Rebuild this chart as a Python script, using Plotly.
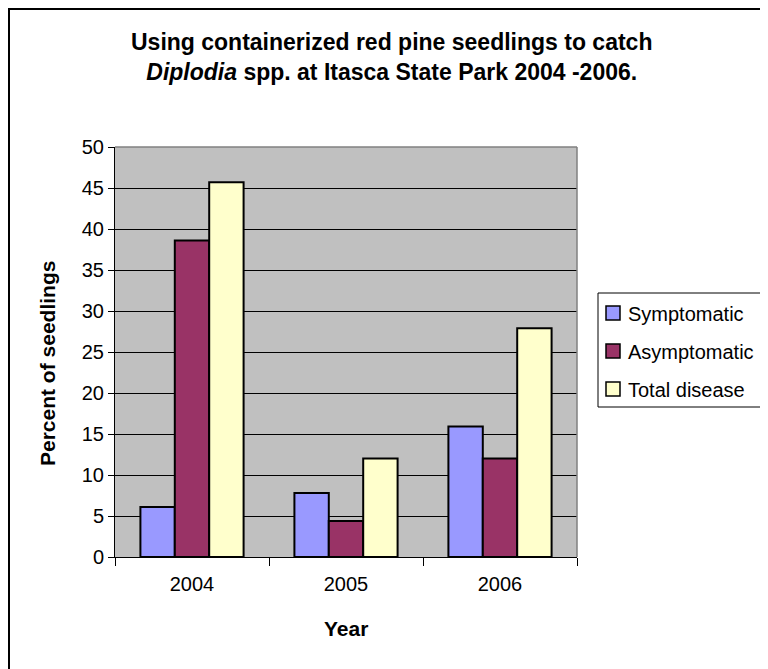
import plotly.graph_objects as go

years = ["2004", "2005", "2006"]
symptomatic = [6.1, 7.8, 15.9]
asymptomatic = [38.6, 4.4, 12.0]
total_disease = [45.7, 12.0, 27.9]
series_names = ["Symptomatic", "Asymptomatic", "Total disease"]
series_colors = ["#9999FF", "#993366", "#FFFFCC"]
y_ticks = [0, 5, 10, 15, 20, 25, 30, 35, 40, 45, 50]

FONT = "Liberation Sans, Arial, sans-serif"

fig = go.Figure()
for name, vals, col in zip(series_names, [symptomatic, asymptomatic, total_disease], series_colors):
    fig.add_trace(go.Bar(
        x=years, y=vals, name=name, showlegend=False,
        marker=dict(color=col, line=dict(color="black", width=2)),
    ))

OFF = 8  # page offset of the figure in the screenshot
W, H = 768, 669
# plot area in screenshot coordinates
SL, SR, ST, SB = 115, 577, 147, 557
L, R, T, B = SL - OFF, SR - OFF, ST - OFF, SB - OFF
pw, ph = R - L, B - T


def px_x(s):
    return (s - OFF - L) / pw


def px_y(s):
    return (B - (s - OFF)) / ph


annotations = [
    dict(
        text="<b>Using containerized red pine seedlings to catch</b><br><b><i>Diplodia</i> spp. at Itasca State Park 2004 -2006.</b>",
        xref="paper", yref="paper", x=px_x(391), y=px_y(57),
        xanchor="center", yanchor="middle", showarrow=False,
        font=dict(family=FONT, size=23, color="black"), align="center",
    ),
    dict(
        text="<b>Percent of seedlings</b>",
        xref="paper", yref="paper", x=px_x(47), y=px_y(364),
        xanchor="center", yanchor="middle", showarrow=False, textangle=-90,
        font=dict(family=FONT, size=21, color="black"),
    ),
    dict(
        text="<b>Year</b>",
        xref="paper", yref="paper", x=px_x(346), y=px_y(628),
        xanchor="center", yanchor="middle", showarrow=False,
        font=dict(family=FONT, size=21, color="black"),
    ),
]

shapes = [
    dict(type="rect", xref="paper", yref="paper",
         x0=px_x(OFF + 1), x1=px_x(900), y0=px_y(OFF + 1), y1=px_y(900),
         line=dict(color="black", width=2), layer="below"),
    dict(type="line", xref="paper", yref="paper",
         x0=0, x1=1, y0=1, y1=1, line=dict(color="#808080", width=1.5)),
    dict(type="line", xref="paper", yref="paper",
         x0=1, x1=1, y0=0, y1=1, line=dict(color="#808080", width=1.5)),
    # legend box
    dict(type="rect", xref="paper", yref="paper",
         x0=px_x(598), x1=px_x(800), y0=px_y(293), y1=px_y(407),
         line=dict(color="black", width=1), fillcolor="white"),
]

# legend entries
item_y = [313, 351, 389]
for name, col, yy in zip(series_names, series_colors, item_y):
    shapes.append(dict(type="rect", xref="paper", yref="paper",
                       x0=px_x(606), x1=px_x(620), y0=px_y(yy + 7), y1=px_y(yy - 7),
                       line=dict(color="black", width=1.5), fillcolor=col))
    annotations.append(dict(text=name, xref="paper", yref="paper",
                            x=px_x(626), y=px_y(yy + 1), xanchor="left", yanchor="middle",
                            showarrow=False, font=dict(family=FONT, size=20, color="black")))

fig.update_layout(
    width=W, height=H,
    margin=dict(l=L, r=W - R, t=T, b=H - B, autoexpand=False),
    paper_bgcolor="white",
    plot_bgcolor="#C0C0C0",
    barmode="group",
    bargap=0.33,
    bargroupgap=0,
    font=dict(family=FONT, size=20, color="black"),
    showlegend=False,
    xaxis=dict(
        showline=True, linecolor="black", linewidth=1,
        ticks="outside", ticklen=8, tickcolor="black",
        tickson="boundaries",
        tickfont=dict(family=FONT, size=20),
        ticklabelstandoff=9,
        showgrid=False,
    ),
    yaxis=dict(
        range=[0, 50], tickvals=y_ticks,
        showline=True, linecolor="black", linewidth=1,
        ticks="outside", ticklen=6, tickcolor="black",
        tickfont=dict(family=FONT, size=20),
        showgrid=True, gridcolor="black", gridwidth=1,
        zeroline=False,
    ),
    annotations=annotations,
    shapes=shapes,
)

fig.write_html("out.html")
